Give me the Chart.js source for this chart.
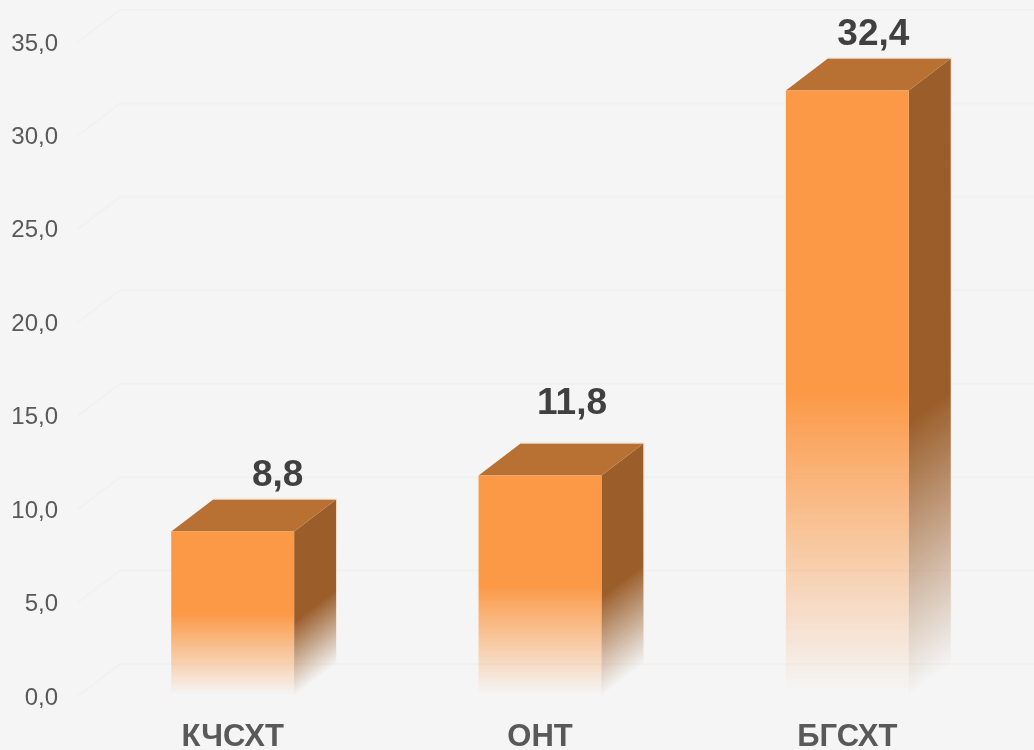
<!DOCTYPE html>
<html>
<head>
<meta charset="utf-8">
<script src="https://cdn.jsdelivr.net/npm/chart.js@4"></script>
<style>
  html, body { margin: 0; padding: 0; background: #f5f5f5; overflow: hidden; }
  #wrap { width: 1034px; height: 750px; }
</style>
</head>
<body>
<div id="wrap"><canvas id="barChart" width="1034" height="750"></canvas></div>
<script>
const categories = ["КЧСХТ", "ОНТ", "БГСХТ"];
const values = [8.8, 11.8, 32.4];
const yTicks = [0, 5, 10, 15, 20, 25, 30, 35];

// the value labels sit by hand in the original, not centred over the bars
const labelShift = [[45, -56], [32, -72], [26, -56]];

// 3d look
const depthX = 42;
const depthY = 32;
const fadeStart = 0.5;
const sideFadeStart = 0.55;

const formatNum = (v) => v.toFixed(1).replace(".", ",");

const frontFill = (context) => {
  const { chart, parsed } = context;
  if (!chart.chartArea || !parsed) return "#fb9947";
  const yScale = chart.scales.y;
  const top = yScale.getPixelForValue(parsed.y);
  const base = yScale.getPixelForValue(0);
  const grad = chart.ctx.createLinearGradient(0, top, 0, base);
  grad.addColorStop(0, "rgba(251,153,71,1)");
  grad.addColorStop(fadeStart, "rgba(251,153,71,1)");
  grad.addColorStop(0.99, "rgba(251,153,71,0)");
  grad.addColorStop(1, "rgba(251,153,71,0)");
  return grad;
};

const wallGrid = {
  id: "wallGrid",
  beforeDatasetsDraw(chart) {
    const { ctx, scales } = chart;
    const left = scales.x.left - 1;
    ctx.save();
    ctx.strokeStyle = "#f1f1f1";
    ctx.lineWidth = 2;
    yTicks.forEach((t) => {
      const y = scales.y.getPixelForValue(t);
      ctx.beginPath();
      ctx.moveTo(left, y);
      ctx.lineTo(left + depthX, y - depthY);
      ctx.lineTo(chart.width, y - depthY);
      ctx.stroke();
    });
    ctx.restore();
  },
};

const barSides = {
  id: "barSides",
  beforeDatasetsDraw(chart) {
    const { ctx } = chart;
    const bars = chart.getDatasetMeta(0).data;
    bars.forEach((bar) => {
      const l = bar.x - bar.width / 2;
      const r = bar.x + bar.width / 2;
      const h = bar.base - bar.y;
      const midY = bar.y + h * sideFadeStart;

      // side face, fades along the normal of its bottom edge
      const len = Math.hypot(depthX, depthY);
      const nx = depthY / len;
      const ny = depthX / len;
      const dist = ny * h * (1 - sideFadeStart);
      const side = ctx.createLinearGradient(r, midY, r + nx * dist, midY + ny * dist);
      side.addColorStop(0, "rgba(155,94,43,1)");
      side.addColorStop(1, "rgba(155,94,43,0)");
      ctx.fillStyle = side;
      ctx.beginPath();
      ctx.moveTo(r, bar.y);
      ctx.lineTo(r + depthX, bar.y - depthY);
      ctx.lineTo(r + depthX, bar.base - depthY);
      ctx.lineTo(r, bar.base);
      ctx.closePath();
      ctx.fill();

      // top face
      ctx.fillStyle = "#b87033";
      ctx.beginPath();
      ctx.moveTo(l, bar.y);
      ctx.lineTo(r, bar.y);
      ctx.lineTo(r + depthX, bar.y - depthY);
      ctx.lineTo(l + depthX, bar.y - depthY);
      ctx.closePath();
      ctx.fill();

      // pale rim on the back edges
      const rim = ctx.createLinearGradient(0, bar.y - depthY, 0, bar.base - depthY);
      rim.addColorStop(0, "rgba(240,215,190,0.8)");
      rim.addColorStop(1, "rgba(240,215,190,0)");
      ctx.strokeStyle = rim;
      ctx.lineWidth = 1;
      ctx.beginPath();
      ctx.moveTo(l + depthX, bar.y - depthY - 0.5);
      ctx.lineTo(r + depthX + 0.5, bar.y - depthY - 0.5);
      ctx.lineTo(r + depthX + 0.5, bar.base - depthY);
      ctx.stroke();
    });
  },
};

const valueLabels = {
  id: "valueLabels",
  afterDatasetsDraw(chart) {
    const { ctx } = chart;
    ctx.save();
    ctx.fillStyle = "#404040";
    ctx.font = "bold 37px 'Liberation Sans', Arial, sans-serif";
    ctx.textAlign = "center";
    ctx.textBaseline = "middle";
    chart.getDatasetMeta(0).data.forEach((bar, i) => {
      ctx.fillText(formatNum(values[i]), bar.x + labelShift[i][0], bar.y + labelShift[i][1]);
    });
    ctx.restore();
  },
};

new Chart(document.getElementById("barChart"), {
  type: "bar",
  data: {
    labels: categories,
    datasets: [
      {
        data: values,
        backgroundColor: frontFill,
        borderWidth: 0,
        barPercentage: 0.4,
        categoryPercentage: 1,
      },
    ],
  },
  options: {
    responsive: false,
    animation: false,
    layout: { padding: { top: 42, right: 33, left: 0, bottom: 0 } },
    plugins: { legend: { display: false }, tooltip: { enabled: false } },
    scales: {
      x: {
        grid: { display: false },
        border: { display: false },
        afterFit: (scale) => { scale.height = 54; },
        ticks: {
          color: "#595959",
          padding: 15,
          maxRotation: 0,
          font: { family: "'Liberation Sans', Arial, sans-serif", size: 31, weight: "bold" },
        },
      },
      y: {
        min: 0,
        max: 35,
        grid: { display: false, drawTicks: false },
        border: { display: false },
        afterFit: (scale) => { scale.width = 79; },
        afterBuildTicks: (scale) => { scale.ticks = yTicks.map((value) => ({ value })); },
        ticks: {
          color: "#595959",
          padding: 21,
          labelOffset: 2,
          callback: (v) => formatNum(v),
          font: { family: "'Liberation Sans', Arial, sans-serif", size: 24 },
        },
      },
    },
  },
  plugins: [wallGrid, barSides, valueLabels],
});
</script>
</body>
</html>
